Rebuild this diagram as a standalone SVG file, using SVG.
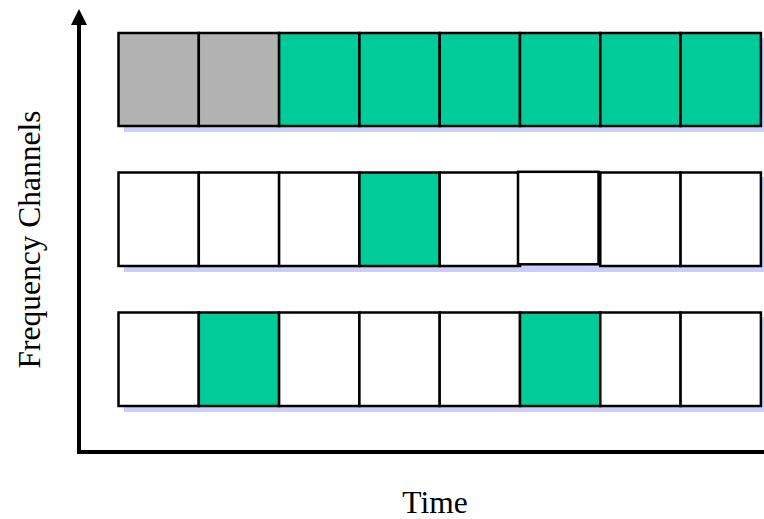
<svg xmlns="http://www.w3.org/2000/svg" width="764" height="519" viewBox="0 0 764 519">
<style>
.c{stroke:#000;stroke-width:2.5}
.w{fill:#fff}
.g{fill:#00cc99}
.k{fill:#b2b2b2}
.sh{fill:#ccccff}
.ax{stroke:#000;stroke-width:4;fill:none}
.t{font-family:"Liberation Serif","Times New Roman",serif;font-size:31.5px;fill:#000}
</style>
<rect width="764" height="519" fill="#fff"/>
<g id="axes">
<line class="ax" x1="79" y1="454" x2="79" y2="22"/>
<polygon points="79,9 71,25 87,25" fill="#000"/>
<line class="ax" x1="77" y1="452" x2="764" y2="452"/>
</g>
<g id="row1">
<rect class="sh" x="124" y="38" width="642" height="94"/>
<rect class="c k" x="118.5" y="33" width="80.3" height="93"/>
<rect class="c k" x="198.8" y="33" width="80.3" height="93"/>
<rect class="c g" x="279.1" y="33" width="80.3" height="93"/>
<rect class="c g" x="359.4" y="33" width="80.3" height="93"/>
<rect class="c g" x="439.7" y="33" width="80.3" height="93"/>
<rect class="c g" x="520" y="33" width="80.3" height="93"/>
<rect class="c g" x="600.3" y="33" width="80.3" height="93"/>
<rect class="c g" x="680.6" y="33" width="80.3" height="93"/>
</g>
<g id="row2">
<rect class="sh" x="124" y="177" width="642" height="95"/>
<rect class="c w" x="118.5" y="172.5" width="80.3" height="93.5"/>
<rect class="c w" x="198.8" y="172.5" width="80.3" height="93.5"/>
<rect class="c w" x="279.1" y="172.5" width="80.3" height="93.5"/>
<rect class="c g" x="359.4" y="172.5" width="80.3" height="93.5"/>
<rect class="c w" x="439.7" y="172.5" width="80.3" height="93.5"/>
<rect class="c w" x="600.3" y="172.5" width="80.3" height="93.5"/>
<rect class="c w" x="680.6" y="172.5" width="80.3" height="93.5"/>
<rect class="c w" x="518" y="171.8" width="80.5" height="92.5"/>
</g>
<g id="row3">
<rect class="sh" x="124" y="317" width="642" height="95"/>
<rect class="c w" x="118.5" y="312.5" width="80.3" height="93.5"/>
<rect class="c g" x="198.8" y="312.5" width="80.3" height="93.5"/>
<rect class="c w" x="279.1" y="312.5" width="80.3" height="93.5"/>
<rect class="c w" x="359.4" y="312.5" width="80.3" height="93.5"/>
<rect class="c w" x="439.7" y="312.5" width="80.3" height="93.5"/>
<rect class="c g" x="520" y="312.5" width="80.3" height="93.5"/>
<rect class="c w" x="600.3" y="312.5" width="80.3" height="93.5"/>
<rect class="c w" x="680.6" y="312.5" width="80.3" height="93.5"/>
</g>
<text class="t" x="0" y="0" text-anchor="middle" transform="translate(40,239.5) rotate(-90)">Frequency Channels</text>
<text class="t" x="435" y="513" text-anchor="middle">Time</text>
</svg>
